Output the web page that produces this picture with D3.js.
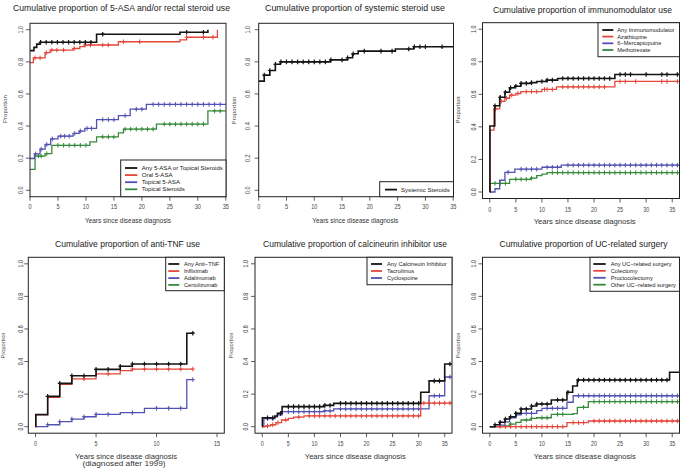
<!DOCTYPE html>
<html><head><meta charset="utf-8">
<script src="https://cdn.jsdelivr.net/npm/d3@7"></script>
<style>body{margin:0;background:#fff}svg{display:block;font-family:"Liberation Sans",Arial,sans-serif}</style>
</head><body><svg id="c" width="681" height="469"></svg>
<script>
// ---------------- DATA ----------------
// Panel 1: 5-ASA and/or rectal steroid use
const p1_any_steps = [[0,0.87],[0.7,0.89],[1.2,0.91],[1.8,0.922],[11.9,0.972],[26.8,0.984],[31.8,1.0]];
const p1_any_end = 31.8;
const p1_any_cens = [1.9,2.9,3.9,4.9,5.9,6.9,7.9,8.9,9.9,10.9,13,28,31];
const p1_oral_steps = [[0,0.795],[0.6,0.825],[2.7,0.857],[3.6,0.873],[7.7,0.883],[8.9,0.895],[9.8,0.905],[15.8,0.925],[26.8,0.937],[28,0.953],[33.5,1.0]];
const p1_oral_end = 33.5;
const p1_oral_cens = [0.9,1.8,2.9,3.9,4.8,6,7.9,9.8,10.8,13,14,16.7,19.6,28,31,32.7];
const p1_top5_steps = [[0,0.198],[0.8,0.227],[1.8,0.256],[2.7,0.285],[3.7,0.32],[5,0.337],[7.7,0.354],[8.8,0.369],[9.8,0.385],[11.9,0.44],[15.8,0.465],[17.9,0.505],[20.8,0.535]];
const p1_top5_end = 35;
const p1_top5_cens = [1,2,3,4,5.5,6.2,7,8,9,10.2,11,13,14,15,17,19,20,22,23,24,25,26,27,28,29,30,31,32,33,34];
const p1_ster_steps = [[0,0.13],[0.9,0.213],[2.7,0.228],[3.9,0.28],[10.7,0.302],[11.9,0.333],[15.8,0.358],[16.7,0.381],[22.6,0.412],[31.8,0.494]];
const p1_ster_end = 35;
const p1_ster_cens = [1.5,2,3,5,6,7,8,9,10,13,14,15,17,18,19,20,21,22,24,25,26,27,28,29,30,31,33,34];

// Panel 2: systemic steroid use
const p2_sys_steps = [[0,0.68],[1,0.717],[2,0.746],[3,0.785],[3.9,0.8],[12.9,0.8125],[16,0.825],[16.9,0.85],[17.9,0.867],[24.6,0.88],[27.9,0.894]];
const p2_sys_end = 35;
const p2_sys_cens = [1,2,3,4,5,6,7,8,9,10,11,12,13,15,16,17,19,22,24,27,28,29,30,33];

// Panel 3: immunomodulator use
const p3_any_steps = [[0,0],[0.02,0.405],[0.95,0.53],[1.9,0.582],[2.9,0.613],[3.8,0.64],[4.8,0.65],[5.95,0.667],[7.9,0.672],[9,0.679],[10.9,0.687],[13,0.6975],[24,0.722]];
const p3_any_end = 36.3;
const p3_any_cens = [1,2,3,4,5,6,7,8,10,11,12,14,15,16,17,18,19,20,21,22,23,25,26,27,30,33,34,36];
const p3_aza_steps = [[0,0],[0.05,0.38],[0.8,0.51],[1.9,0.557],[2.9,0.576],[3.8,0.595],[5,0.605],[5.95,0.617],[10,0.63],[12.8,0.646],[24,0.679]];
const p3_aza_end = 36.3;
const p3_aza_cens = [1.1,2.2,3.2,4.2,5.4,7,8,9,10.5,11,12,14,15,16,17,18,19,20,21,22,25,26,28,33,34,36];
const p3_mp_steps = [[0,0],[1,0.02],[1.9,0.072],[2.9,0.121],[4.8,0.14],[10,0.152],[13.7,0.165]];
const p3_mp_end = 36.3;
const p3_mp_cens = [3.5,6,7,8,9,11,12,13,15,16,17,18,19,20,21,22,23,24,25,26,27,28,29,30,31,32,33,34,35,36];
const p3_mtx_steps = [[0,0],[0.02,0.053],[3.8,0.078],[7.9,0.085],[9,0.1],[10,0.11],[11,0.119]];
const p3_mtx_end = 36.3;
const p3_mtx_cens = [1,2,3,5,6,7,8,12,13,14,15,16,17,18,19,20,21,22,23,24,25,26,27,28,29,30,31,32,33,34,35,36];

// Panel 4: anti-TNF use
const p4_any_steps = [[0,0],[0.02,0.074],[1,0.186],[2,0.266],[3,0.313],[5,0.352],[7,0.371],[8,0.385],[12.5,0.574]];
const p4_any_end = 13.05;
const p4_any_cens = [1,2,3,4,5,6,7,8,9,10,11,12,13];
const p4_ifx_steps = [[0,0],[0.02,0.074],[1,0.18],[2,0.26],[3,0.293],[5,0.324],[7,0.344],[8,0.354]];
const p4_ifx_end = 13;
const p4_ifx_cens = [4,6,8,9,10,11,12,13];
const p4_ada_steps = [[0,0],[1,0.012],[2,0.031],[3,0.047],[4,0.061],[5,0.076],[7,0.086],[9,0.113],[12.5,0.289]];
const p4_ada_end = 13;
const p4_ada_cens = [1,2,3,4,5,6,8,10,11,12,13];
const p4_cer_steps = [];
const p4_cer_end = 0;
const p4_cer_cens = [];

// Panel 5: calcineurin inhibitor use
const p5_any_steps = [[0,0],[0.02,0.055],[2.4,0.066],[2.9,0.082],[3.8,0.123],[11.8,0.131],[13.7,0.143],[30.4,0.211],[32,0.281],[35,0.385]];
const p5_any_end = 36.3;
const p5_any_cens = [1,2,3.5,5,6,7,8,9,10,11,12,13,15,16,17,18,19,20,21,22,23,24,25,26,27,28,29,30,33,34,36];
const p5_tac_steps = [[0,0],[0.7,0.005],[1.6,0.012],[2.6,0.025],[3.7,0.041],[5,0.051],[6,0.059],[8,0.066],[30.4,0.145]];
const p5_tac_end = 36.3;
const p5_tac_cens = [1,2,3,4.5,7,9,10,11,12,13,14,15,16,17,18,19,20,21,22,23,24,25,26,27,28,29,30,31,32,33,34,35,36];
const p5_cyc_steps = [[0,0],[0.3,0.05],[2.4,0.06],[2.9,0.072],[3.8,0.092],[11.8,0.097],[13.7,0.109],[32,0.19],[35,0.305]];
const p5_cyc_end = 36.3;
const p5_cyc_cens = [1,2,5,6,7,8,9,10,11,12,13,15,16,17,18,19,20,21,22,23,24,25,26,27,28,29,30,33,34,36];

// Panel 6: UC-related surgery
const p6_any_steps = [[0,0],[1,0.012],[1.9,0.027],[2.9,0.047],[3.8,0.061],[5,0.082],[6,0.109],[8,0.127],[9,0.139],[11.8,0.164],[14.8,0.211],[15.9,0.25],[16.8,0.287],[34.5,0.334]];
const p6_any_end = 36.3;
const p6_any_cens = [1,2,3,4,5,6,7,8,9,10,11,13,14,15,17,18,19,20,21,22,23,24,25,26,27,28,29,30,31,32,33,34];
const p6_col_steps = [[0,0],[14.8,0.025],[18.9,0.035]];
const p6_col_end = 36.3;
const p6_col_cens = [2,3,4,5,6,7,8,9,10,11,12,13,14,16,17,18,20,21,22,23,24,25,26,27,28,29,30,31,32,33,34,35,36];
const p6_pro_steps = [[0,0],[1.9,0.01],[2.9,0.03],[3.8,0.055],[5,0.072],[6,0.082],[9,0.098],[10,0.113],[14.8,0.15],[16,0.19]];
const p6_pro_end = 36.3;
const p6_pro_cens = [7,8,11,12,13,14,17,18,19,20,21,22,23,24,25,26,27,28,29,30,31,32,33,34,35,36];
const p6_oth_steps = [[0,0],[2.9,0.005],[3.8,0.016],[5,0.027],[6,0.041],[8,0.051],[9,0.055],[11.8,0.076],[16,0.08],[16.8,0.119],[18.9,0.154]];
const p6_oth_end = 36.3;
const p6_oth_cens = [4,7,8,10,11,13,14,18,20,21,22,23,24,25,26,27,28,29,30,31,32,33,34,35,36];

// Labels
const titles = [
  "Cumulative proportion of 5-ASA and/or rectal steroid use",
  "Cumulative proportion of systemic steroid use",
  "Cumulative proportion of immunomodulator use",
  "Cumulative proportion of anti-TNF use",
  "Cumulative proportion of calcineurin inhibitor use",
  "Cumulative proportion of UC-related surgery"
];
const legend1 = ["Any 5-ASA or Topical Steroids","Oral 5-ASA","Topical 5-ASA","Topical Steroids"];
const legend2 = ["Systemic Steroids"];
const legend3 = ["Any Immunomodulator","Azathiopine","6\u2212Mercaptopuine","Methotrexate"];
const legend4 = ["Any Anti\u2212TNF","Infliximab","Adalimumab","Certolizumab"];
const legend5 = ["Any Calcineuin Inhibitor","Tacrolimus","Cyclospoine"];
const legend6 = ["Any UC\u2212related surgery","Colectomy","Proctocolectomy","Other UC\u2212related surgery"];
const xTicks35 = [0,5,10,15,20,25,30,35];
const xTicks15 = [0,5,10,15];
const yTicks = [0,0.2,0.4,0.6,0.8,1.0];
const xTitle = "Years since disease diagnosis";
const xSubTitle = "(diagnosed after 1999)";
const yTitle = "Proportion";

// ---------------- STYLE / LAYOUT ----------------
const COL = {black:"#141414", red:"#e4473c", blue:"#5252b2", green:"#368a3b"};
const seriesColors = [COL.black, COL.red, COL.blue, COL.green];

const panels = [
  {series:[[p1_any_steps,p1_any_end,p1_any_cens],[p1_oral_steps,p1_oral_end,p1_oral_cens],[p1_top5_steps,p1_top5_end,p1_top5_cens],[p1_ster_steps,p1_ster_end,p1_ster_cens]],
   box:[30,226,23.3,196.7], xd:[0,35], xr:[30,225.8], yr:[196.7,23.3], xt:xTicks35,
   title:{x:121.5,y:10.5,w:217,fs:9.5}, xl:{x:128,y:223,w:86,fs:6.5}, yl:{x:5,y:109,w:28,fs:6},
   leg:{names:legend1,x0:120.7,x1:226,y0:160,y1:196.7,rows:[168,175.1,182.2,189.3],lx0:125,lx1:137.3,tx:141.7,fs:6.1},
   tfs:6.5, lbOff:9.5, tbOff:10},
  {series:[[p2_sys_steps,p2_sys_end,p2_sys_cens]],
   box:[258.7,453.5,23.3,196.7], xd:[0,35], xr:[258.7,453.2], yr:[196.7,23.3], xt:xTicks35,
   title:{x:355,y:10.5,w:180,fs:9.5}, xl:{x:355.3,y:223,w:86,fs:6.5}, yl:{x:233.7,y:110.5,w:28,fs:6},
   leg:{names:legend2,x0:379.7,x1:453.5,y0:181.7,y1:196.7,rows:[189.6],lx0:385,lx1:397,tx:401,fs:6.1},
   tfs:6.5, lbOff:10.5, tbOff:10},
  {series:[[p3_any_steps,p3_any_end,p3_any_cens],[p3_aza_steps,p3_aza_end,p3_aza_cens],[p3_mp_steps,p3_mp_end,p3_mp_cens],[p3_mtx_steps,p3_mtx_end,p3_mtx_cens]],
   box:[482.5,679.5,22.7,198.5], xd:[-1.4,36.4], xr:[482.5,679.5], yr:[198.5,22.7], xt:xTicks35,
   title:{x:582.5,y:13,w:179,fs:9.5}, xl:{x:584.7,y:224,w:102,fs:8}, yl:{x:458.3,y:110,w:27,fs:5.6},
   leg:{names:legend3,x0:598,x1:679.5,y0:22.7,y1:56.7,rows:[30,36.6,43.3,50],lx0:602.3,lx1:613.3,tx:617.3,fs:5.7},
   tfs:6.3, lbOff:8.5, tbOff:11.5},
  {series:[[p4_any_steps,p4_any_end,p4_any_cens],[p4_ifx_steps,p4_ifx_end,p4_ifx_cens],[p4_ada_steps,p4_ada_end,p4_ada_cens],[p4_cer_steps,p4_cer_end,p4_cer_cens]],
   box:[28.3,224.3,257.3,433.2], xd:[-0.6,15.6], xr:[28.3,224.3], yr:[433.2,257.3], xt:xTicks15,
   title:{x:127.5,y:246.5,w:145,fs:9.5}, xl:{x:126,y:458.5,w:102,fs:8}, yl:{x:3.5,y:345.5,w:26,fs:5.6},
   xl2:{x:124,y:466,w:83,fs:8},
   leg:{names:legend4,x0:165.7,x1:224.3,y0:257.3,y1:290.7,rows:[264,271.1,278.1,284.9],lx0:168.3,lx1:179.3,tx:184,fs:5.7},
   tfs:6.3, lbOff:8, tbOff:11},
  {series:[[p5_any_steps,p5_any_end,p5_any_cens],[p5_tac_steps,p5_tac_end,p5_tac_cens],[p5_cyc_steps,p5_cyc_end,p5_cyc_cens]],
   box:[255,452,257.3,433.2], xd:[-1.4,36.4], xr:[255,452], yr:[433.2,257.3], xt:xTicks35,
   title:{x:355,y:246.5,w:184,fs:9.5}, xl:{x:355.3,y:458.5,w:101,fs:8}, yl:{x:231,y:345.5,w:26,fs:5.6},
   leg:{names:legend5,x0:367,x1:452,y0:257.3,y1:284.7,rows:[264,271,278],lx0:371,lx1:382,tx:387,fs:5.7},
   tfs:6.3, lbOff:9.5, tbOff:11},
  {series:[[p6_any_steps,p6_any_end,p6_any_cens],[p6_col_steps,p6_col_end,p6_col_cens],[p6_pro_steps,p6_pro_end,p6_pro_cens],[p6_oth_steps,p6_oth_end,p6_oth_cens]],
   box:[482.5,679.5,257.3,433.2], xd:[-1.4,36.4], xr:[482.5,679.5], yr:[433.2,257.3], xt:xTicks35,
   title:{x:583.5,y:246.5,w:168,fs:9.5}, xl:{x:584.8,y:458.5,w:102,fs:8}, yl:{x:458,y:345.5,w:26,fs:5.6},
   leg:{names:legend6,x0:590,x1:679.5,y0:257.3,y1:291.3,rows:[264,270.8,277.8,284.7],lx0:593.3,lx1:605.7,tx:610.7,fs:5.7},
   tfs:6.3, lbOff:9, tbOff:11}
];

const svg = d3.select("#c");
svg.append("rect").attr("width",681).attr("height",469).attr("fill","#fff");

function squish(sel, f){
  sel.each(function(){
    const w = this.getComputedTextLength();
    this.setAttribute("textLength", (w*f).toFixed(2));
    this.setAttribute("lengthAdjust","spacingAndGlyphs");
  });
}
// shrink the font until the natural width fits the target, then pin the width
function fit(sel, w){
  sel.each(function(){
    const fs = parseFloat(this.getAttribute("font-size"));
    const nat = this.getComputedTextLength();
    if (nat > w) this.setAttribute("font-size", (fs*w/nat).toFixed(2));
    this.setAttribute("textLength", w);
    this.setAttribute("lengthAdjust","spacingAndGlyphs");
  });
}
function valueAt(steps, x){
  let y = steps[0][1];
  for (const s of steps) if (s[0] <= x) y = s[1];
  return y;
}

panels.forEach((P, pi) => {
  const g = svg.append("g");
  const x = d3.scaleLinear().domain(P.xd).range(P.xr);
  const y = d3.scaleLinear().domain([-0.04,1.04]).range(P.yr);
  const [bx0,bx1,by0,by1] = P.box;
  const clipId = "clip"+pi;
  svg.append("clipPath").attr("id",clipId).append("rect")
    .attr("x",bx0).attr("y",by0).attr("width",bx1-bx0).attr("height",by1-by0);

  // series (draw in reverse so black is on top)
  const plot = g.append("g").attr("clip-path","url(#"+clipId+")");
  const line = d3.line().x(d=>x(d[0])).y(d=>y(d[1])).curve(d3.curveStepAfter);
  for (let si = P.series.length-1; si >= 0; si--){
    const [steps, end, cens] = P.series[si];
    if (!steps.length) continue;
    const col = seriesColors[si];
    const sw = si===0 ? 1.6 : 1.3;
    const last = steps[steps.length-1];
    const pts = end > last[0] ? steps.concat([[end,last[1]]]) : steps;
    plot.append("path").attr("d", line(pts)).attr("fill","none")
      .attr("stroke", col).attr("stroke-width", sw);
    plot.selectAll(null).data(cens).enter().append("path")
      .attr("d", c => { const cx=x(c), cy=y(valueAt(steps,c));
        return `M${cx-2},${cy}H${cx+2}M${cx},${cy-2.3}V${cy+2.3}`; })
      .attr("stroke", col).attr("stroke-width", si===0?1.2:1).attr("fill","none");
  }

  // box
  g.append("rect").attr("x",bx0).attr("y",by0).attr("width",bx1-bx0).attr("height",by1-by0)
    .attr("fill","none").attr("stroke","#222").attr("stroke-width",1);

  // x axis ticks
  const xa = g.append("g");
  xa.selectAll("line").data(P.xt).enter().append("line")
    .attr("x1",d=>x(d)).attr("x2",d=>x(d)).attr("y1",by1).attr("y2",by1+4)
    .attr("stroke","#333").attr("stroke-width",0.8);
  xa.selectAll("text").data(P.xt).enter().append("text")
    .attr("x",d=>x(d)).attr("y",by1+P.tbOff).attr("dy","0.35em")
    .attr("text-anchor","middle").attr("font-size",P.tfs).attr("fill","#444")
    .text(d=>d3.format("d")(d)).call(squish,0.85);

  // y axis ticks
  const ya = g.append("g");
  ya.selectAll("line").data(yTicks).enter().append("line")
    .attr("x1",bx0-4).attr("x2",bx0).attr("y1",d=>y(d)).attr("y2",d=>y(d))
    .attr("stroke","#333").attr("stroke-width",0.8);
  ya.selectAll("text").data(yTicks).enter().append("text")
    .attr("transform",d=>`translate(${bx0-P.lbOff},${y(d)}) rotate(-90)`)
    .attr("dy","0.35em").attr("text-anchor","middle")
    .attr("font-size",P.tfs).attr("fill","#444")
    .text(d=>d3.format(".1f")(d)).call(squish,0.85);

  // title
  g.append("text").attr("x",P.title.x).attr("y",P.title.y).attr("text-anchor","middle")
    .attr("font-size",P.title.fs).attr("fill","#222").text(titles[pi]).call(fit,P.title.w);
  // axis titles
  g.append("text").attr("x",P.xl.x).attr("y",P.xl.y).attr("text-anchor","middle")
    .attr("font-size",P.xl.fs).attr("fill","#333").text(xTitle).call(fit,P.xl.w);
  if (P.xl2) g.append("text").attr("x",P.xl2.x).attr("y",P.xl2.y).attr("text-anchor","middle")
    .attr("font-size",P.xl2.fs).attr("fill","#333").text(xSubTitle).call(fit,P.xl2.w);
  g.append("text").attr("transform",`translate(${P.yl.x},${P.yl.y}) rotate(-90)`)
    .attr("dy","0.35em").attr("text-anchor","middle")
    .attr("font-size",P.yl.fs).attr("fill","#444").text(yTitle).call(fit,P.yl.w);

  // legend
  const L = P.leg;
  const lg = g.append("g");
  lg.append("rect").attr("x",L.x0).attr("y",L.y0).attr("width",L.x1-L.x0).attr("height",L.y1-L.y0)
    .attr("fill","#fff").attr("stroke","#222").attr("stroke-width",1);
  L.names.forEach((nm, i) => {
    lg.append("line").attr("x1",L.lx0).attr("x2",L.lx1).attr("y1",L.rows[i]).attr("y2",L.rows[i])
      .attr("stroke",seriesColors[i]).attr("stroke-width",1.8);
    lg.append("text").attr("x",L.tx).attr("y",L.rows[i]).attr("dy","0.35em")
      .attr("font-size",L.fs).attr("fill","#222").text(nm);
  });
});
</script></body></html>
